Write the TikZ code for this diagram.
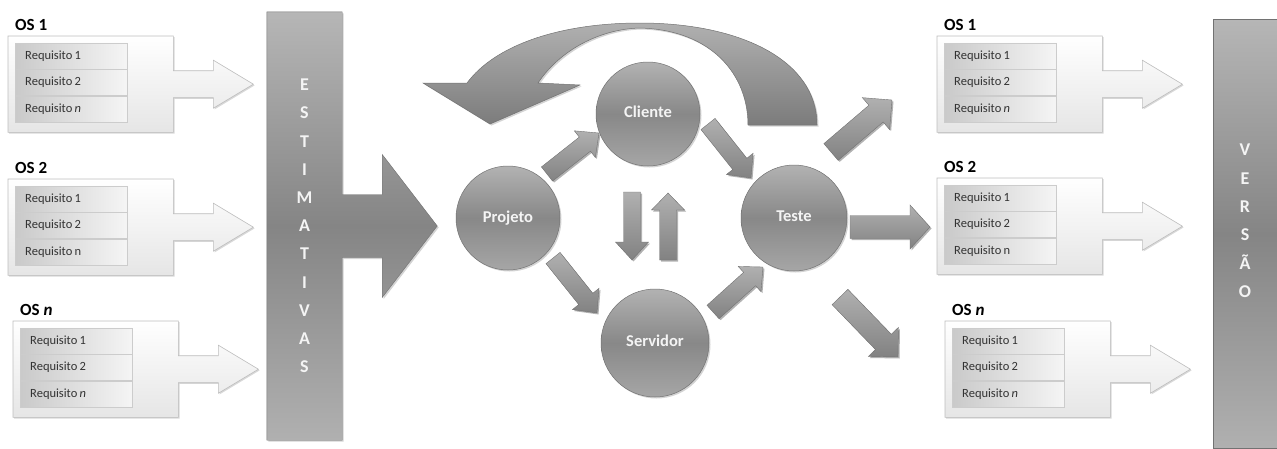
\documentclass[tikz,border=0pt]{standalone}
\usepackage{fontspec}
\setmainfont{Carlito}
\usetikzlibrary{calc,shadows,backgrounds}
\definecolor{txt}{HTML}{333333}
\definecolor{barTop}{HTML}{B6B6B6}
\definecolor{barMid}{HTML}{858585}
\definecolor{barBot}{HTML}{B0B0B0}
\definecolor{cirTop}{HTML}{B2B2B2}
\definecolor{cirMid}{HTML}{888888}
\definecolor{cirBot}{HTML}{A6A6A6}
\definecolor{edge}{HTML}{727272}
\definecolor{boxedge}{HTML}{BDBDBD}
\definecolor{ltxt}{HTML}{F4F4F4}
\definecolor{arTop}{HTML}{B0B0B0}
\definecolor{arBot}{HTML}{828282}

\newcommand\blockarrow[6]{%
  \fill[black,opacity=.3] let \p1=(#1),\p2=(#2),\n1={atan2(\y2-\y1,\x2-\x1)},\n2={veclen(\x2-\x1,\y2-\y1)} in
    [shift={(\x1+1.5pt,\y1-1.5pt)},rotate=\n1] (0,-#3) -- (\n2-#5,-#3) -- (\n2-#5,-#4) -- (\n2,0) -- (\n2-#5,#4) -- (\n2-#5,#3) -- (0,#3) -- cycle;
  \path[#6] let \p1=(#1),\p2=(#2),\n1={atan2(\y2-\y1,\x2-\x1)},\n2={veclen(\x2-\x1,\y2-\y1)} in
    [shift={(\p1)},rotate=\n1] (0,-#3) -- (\n2-#5,-#3) -- (\n2-#5,-#4) -- (\n2,0) -- (\n2-#5,#4) -- (\n2-#5,#3) -- (0,#3) -- cycle;
}

\newcommand\req[1]{Requisito\hspace{2.2pt}#1}

\newcommand\osgroup[5]{%
  \node[inner sep=0pt, minimum width=165pt, minimum height=96pt, anchor=north west] (#1) at (#2,#3) {};
  \path[osbody] (#1.north west) -- (#1.north east) -- ($(#1.east)+(0,-13.5)$) -- ($(#1.east)+(40,-13.5)$)
    -- ($(#1.east)+(40,-24)$) -- ($(#1.east)+(80,0)$) -- ($(#1.east)+(40,24)$) -- ($(#1.east)+(40,13.5)$)
    -- ($(#1.east)+(0,13.5)$) -- (#1.south east) -- (#1.south west) -- cycle;
  \node[row, anchor=north west] (#1r1) at ($(#1.north west)+(7,7)$) {\req{1}};
  \node[row, anchor=north] (#1r2) at (#1r1.south) {\req{2}};
  \node[row, anchor=north] (#1r3) at (#1r2.south) {#5};
  \node[oslabel, anchor=base west] (#1l) at ($(#1.north west)+(7,-6)$) {#4};
}

\begin{document}
\begin{tikzpicture}[x=1pt,y=-1pt,
  osbody/.style={draw=boxedge, line width=0.6pt, top color=white, bottom color=gray!20,
     drop shadow={shadow xshift=1.2pt,shadow yshift=-1.2pt,opacity=.3}},
  row/.style={draw=gray!40, line width=0.4pt, minimum width=112pt, minimum height=26pt, inner xsep=10pt,
     inner ysep=0pt, text width=92pt, align=left, left color=gray!42, right color=gray!8,
     text=txt, font=\fontsize{12.5}{14}\selectfont},
  oslabel/.style={inner sep=0pt, font=\bfseries\fontsize{17}{20}\selectfont, text=black},
  circ/.style={circle, inner sep=0pt, draw=edge, line width=0.5pt, top color=cirTop, bottom color=cirBot,
     middle color=cirMid, text=ltxt, font=\bfseries\fontsize{16.5}{18}\selectfont,
     drop shadow={shadow xshift=1.5pt,shadow yshift=-1.5pt,opacity=.35}},
  barfill/.style={draw=edge, line width=0.4pt, top color=barTop, bottom color=barBot, middle color=barMid,
     drop shadow={shadow xshift=1.5pt,shadow yshift=-1.5pt,opacity=.35}},
  letters/.style={inner sep=0pt, align=center, text=ltxt, font=\bfseries\fontsize{18}{28.2}\selectfont},
  sarrow/.style={draw=edge, line width=0.4pt, top color=arTop, bottom color=arBot},
  curvefill/.style={draw=edge, line width=0.5pt, top color=arTop, bottom color=arBot!95!black,
     drop shadow={shadow xshift=1.5pt,shadow yshift=-1.5pt,opacity=.35}}
]
\useasboundingbox (0,0) rectangle (1277,448);

% ---- left OS groups
\osgroup{L1}{8}{36}{OS 1}{\req{\textit{n}}}
\osgroup{L2}{8}{179}{OS 2}{\req{n}}
\osgroup{L3}{13}{321}{OS \textit{n}}{\req{\textit{n}}}

% ---- ESTIMATIVAS bar with arrow
\node[letters, minimum width=75pt, minimum height=428pt] (est) at (304.5,226) {E\\S\\T\\I\\M\\A\\T\\I\\V\\A\\S};
\begin{scope}[on background layer]
\path[barfill] (est.north west) -- (est.north east) -- ($(est.east)+(0,-31.5)$) -- ($(est.east)+(40,-31.5)$)
  -- ($(est.east)+(40,-71.5)$) -- ($(est.east)+(95,0)$) -- ($(est.east)+(40,71.5)$) -- ($(est.east)+(40,31.5)$)
  -- ($(est.east)+(0,31.5)$) -- (est.south east) -- (est.south west) -- cycle;
\end{scope}

% ---- curved feedback arrow
\path[curvefill] (748,125) .. controls (748,75) and (712,30) .. (640,28)
  .. controls (600,29) and (560,50) .. (538,83) -- (580,85) -- (490,124) -- (423,83) -- (467,83)
  .. controls (495,45) and (560,23) .. (640,23) .. controls (740,23) and (817,60) .. (817,125) -- cycle;

% ---- circles
\node[circ, minimum size=104pt] (cli) at (648,114) {\raisebox{4pt}{Cliente}};
\node[circ, minimum size=104pt] (proj) at (508,218) {Projeto};
\node[circ, minimum size=108pt] (serv) at (655,343) {\raisebox{4pt}{Servidor}};
\node[circ, minimum size=106pt] (test) at (794,218) {\raisebox{4pt}{Teste}};

% ---- small arrows
\coordinate (pcA) at (547,174); \coordinate (pcB) at (599,133);
\coordinate (ctA) at (708,124); \coordinate (ctB) at (751,178);
\coordinate (psA) at (553,258); \coordinate (psB) at (597,313);
\coordinate (stA) at (713,312); \coordinate (stB) at (763,267);
\coordinate (dnA) at (632,192); \coordinate (dnB) at (632,260);
\coordinate (upA) at (668,260); \coordinate (upB) at (668,193);
\blockarrow{pcA}{pcB}{9}{17}{18}{sarrow}
\blockarrow{ctA}{ctB}{9}{17}{18}{sarrow}
\blockarrow{psA}{psB}{9}{17}{18}{sarrow}
\blockarrow{stA}{stB}{9}{17}{18}{sarrow}
\blockarrow{dnA}{dnB}{8.5}{16.5}{18}{sarrow}
\blockarrow{upA}{upB}{8.5}{16.5}{17}{sarrow}

% ---- arrows from Teste
\coordinate (t1A) at (831,152); \coordinate (t1B) at (892,100);
\coordinate (t2A) at (850,227); \coordinate (t2B) at (930,227);
\coordinate (t3A) at (840,297); \coordinate (t3B) at (898,357);
\blockarrow{t1A}{t1B}{11}{21}{21}{sarrow}
\blockarrow{t2A}{t2B}{11.5}{22}{20}{sarrow}
\blockarrow{t3A}{t3B}{11}{21}{21}{sarrow}

% ---- right OS groups
\osgroup{R1}{937}{36}{OS 1}{\req{\textit{n}}}
\osgroup{R2}{937}{178}{OS 2}{\req{n}}
\osgroup{R3}{945}{321}{OS \textit{n}}{\req{\textit{n}}}

% ---- VERSAO bar
\node[inner sep=0pt, minimum width=64pt, minimum height=429pt, anchor=north west, barfill] (ver) at (1213,19) {};
\node[letters, font=\bfseries\fontsize{18}{28.4}\selectfont] (vertxt) at (1245,221) {V\\E\\R\\S\\Ã\\O};
\end{tikzpicture}
\end{document}
